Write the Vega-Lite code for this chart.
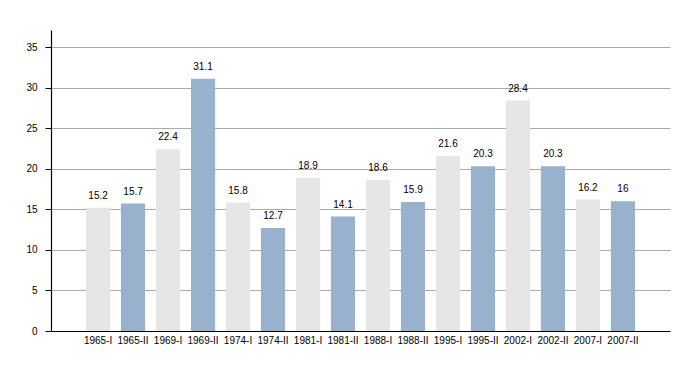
{
  "$schema": "https://vega.github.io/schema/vega-lite/v6.json",
  "width": 619,
  "height": 301,
  "autosize": {"type": "none"},
  "padding": {"left": 51, "top": 30, "right": 30, "bottom": 49},
  "background": "white",
  "config": {
    "view": {"stroke": null},
    "font": "Liberation Sans"
  },
  "data": {
    "values": [
      {"period": "1965-I", "round": "I", "value": 15.2},
      {"period": "1965-II", "round": "II", "value": 15.7},
      {"period": "1969-I", "round": "I", "value": 22.4},
      {"period": "1969-II", "round": "II", "value": 31.1},
      {"period": "1974-I", "round": "I", "value": 15.8},
      {"period": "1974-II", "round": "II", "value": 12.7},
      {"period": "1981-I", "round": "I", "value": 18.9},
      {"period": "1981-II", "round": "II", "value": 14.1},
      {"period": "1988-I", "round": "I", "value": 18.6},
      {"period": "1988-II", "round": "II", "value": 15.9},
      {"period": "1995-I", "round": "I", "value": 21.6},
      {"period": "1995-II", "round": "II", "value": 20.3},
      {"period": "2002-I", "round": "I", "value": 28.4},
      {"period": "2002-II", "round": "II", "value": 20.3},
      {"period": "2007-I", "round": "I", "value": 16.2},
      {"period": "2007-II", "round": "II", "value": 16}
    ]
  },
  "encoding": {
    "x": {
      "field": "period",
      "type": "nominal",
      "sort": null,
      "scale": {"paddingInner": 0.31, "paddingOuter": 1.0},
      "axis": {
        "title": null,
        "labelAngle": 0,
        "ticks": false,
        "labelPadding": 4,
        "labelFontSize": 10,
        "labelColor": "#000",
        "domainColor": "#000",
        "domainWidth": 1.2,
        "grid": false
      }
    },
    "y": {
      "field": "value",
      "type": "quantitative",
      "scale": {"domain": [0, 37.1], "nice": false},
      "axis": {
        "title": null,
        "values": [0, 5, 10, 15, 20, 25, 30, 35],
        "tickSize": 6,
        "tickColor": "#000",
        "labelPadding": 8,
        "labelFontSize": 10,
        "labelColor": "#000",
        "domainColor": "#000",
        "domainWidth": 1.2,
        "grid": true,
        "gridColor": "#aaaaaa",
        "gridWidth": 1
      }
    }
  },
  "layer": [
    {
      "mark": {"type": "bar"},
      "encoding": {
        "color": {
          "field": "round",
          "type": "nominal",
          "scale": {"domain": ["I", "II"], "range": ["#e6e6e6", "#98b1cc"]},
          "legend": null
        }
      }
    },
    {
      "mark": {"type": "text", "baseline": "bottom", "dy": -7, "fontSize": 10, "color": "#000"},
      "encoding": {
        "text": {"field": "value", "type": "quantitative"}
      }
    }
  ]
}
